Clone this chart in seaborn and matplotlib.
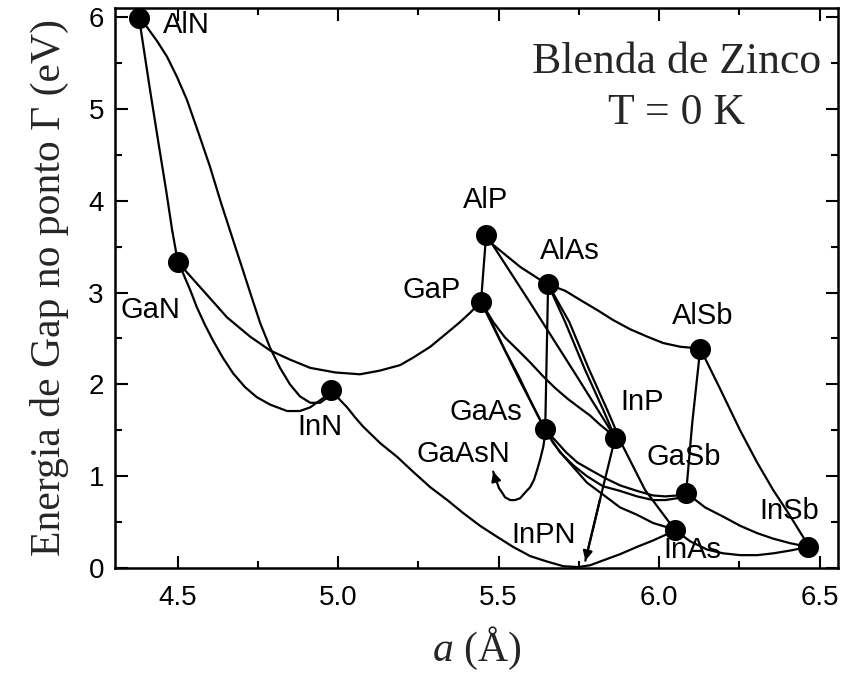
import numpy as np
import pandas as pd
import matplotlib
matplotlib.use("Agg")
import matplotlib.pyplot as plt
from matplotlib.ticker import MultipleLocator
import seaborn as sns

# ---- binary compounds (lattice constant in Angstrom, Gamma gap in eV) ----
compounds = ["AlN", "GaN", "InN", "AlP", "GaP", "AlAs", "AlSb",
             "GaAs", "InP", "GaSb", "InAs", "InSb"]
lattice = [4.380, 4.501, 4.978, 5.461, 5.445, 5.654, 6.128,
           5.645, 5.863, 6.084, 6.050, 6.464]
gap = [5.99, 3.33, 1.94, 3.63, 2.90, 3.09, 2.39,
       1.51, 1.42, 0.82, 0.41, 0.23]

# ---- alloy curves, points ----
AlGaN_a = [4.380, 4.414, 4.439, 4.464, 4.483, 4.501]
AlGaN_E = [5.99, 5.21, 4.66, 4.12, 3.68, 3.33]

AlInN_a = [4.380, 4.405, 4.436, 4.467, 4.498, 4.529, 4.564, 4.601, 4.635, 4.673,
           4.701, 4.726, 4.757, 4.788, 4.819, 4.850, 4.881, 4.913, 4.944, 4.960, 4.978]
AlInN_E = [5.99, 5.89, 5.74, 5.57, 5.35, 5.10, 4.75, 4.37, 3.98, 3.57,
           3.27, 3.00, 2.67, 2.40, 2.18, 2.00, 1.87, 1.80, 1.80, 1.84, 1.94]

GaInN_a = [4.501, 4.517, 4.539, 4.560, 4.585, 4.610, 4.641, 4.673, 4.710, 4.747,
           4.788, 4.841, 4.881, 4.913, 4.953, 4.978]
GaInN_E = [3.33, 3.21, 3.03, 2.84, 2.65, 2.48, 2.29, 2.12, 1.97, 1.86,
           1.78, 1.71, 1.71, 1.75, 1.85, 1.94]

GaNP_a = [4.501, 4.570, 4.654, 4.726, 4.788, 4.850, 4.913, 4.991, 5.068, 5.130,
          5.193, 5.233, 5.287, 5.339, 5.380, 5.411, 5.445]
GaNP_E = [3.33, 3.06, 2.73, 2.52, 2.37, 2.27, 2.18, 2.13, 2.11, 2.15,
          2.21, 2.29, 2.41, 2.56, 2.68, 2.78, 2.90]

InAsN_a = [4.978, 5.006, 5.028, 5.053, 5.078, 5.131, 5.184, 5.233, 5.287, 5.340,
           5.389, 5.442, 5.495, 5.545, 5.598, 5.651, 5.701, 5.747, 5.785, 5.831,
           5.878, 5.931, 5.981, 6.019, 6.050]
InAsN_E = [1.94, 1.83, 1.75, 1.64, 1.54, 1.36, 1.21, 1.05, 0.88, 0.74,
           0.60, 0.46, 0.34, 0.23, 0.13, 0.07, 0.02, 0.01, 0.03, 0.09,
           0.15, 0.23, 0.30, 0.36, 0.41]

GaAsN_a = [5.645, 5.642, 5.639, 5.629, 5.620, 5.610, 5.598, 5.582, 5.567, 5.551,
           5.536, 5.520, 5.511, 5.501, 5.495, 5.489, 5.483]
GaAsN_E = [1.51, 1.39, 1.32, 1.18, 1.07, 0.96, 0.88, 0.82, 0.76, 0.74,
           0.74, 0.77, 0.82, 0.87, 0.93, 0.98, 1.05]

InPN_a = [5.863, 5.816, 5.770]
InPN_E = [1.42, 0.75, 0.08]

AlGaP_a = [5.461, 5.445]
AlGaP_E = [3.63, 2.90]

AlAsP_a = [5.461, 5.483, 5.567, 5.629, 5.654]
AlAsP_E = [3.63, 3.52, 3.28, 3.14, 3.09]

AlInP_a = [5.461, 5.598, 5.745, 5.863]
AlInP_E = [3.63, 2.89, 2.08, 1.42]

AlAsInP_a = [5.654, 5.707, 5.769, 5.826, 5.863]
AlAsInP_E = [3.09, 2.68, 2.16, 1.72, 1.42]

AlInAs_a = [5.654, 5.720, 5.782, 5.841, 5.885, 5.956, 6.050]
AlInAs_E = [3.09, 2.68, 2.16, 1.70, 1.34, 0.85, 0.41]

AlGaAs_a = [5.654, 5.645]
AlGaAs_E = [3.09, 1.51]

AlAsSb_a = [5.654, 5.707, 5.754, 5.807, 5.857, 5.910, 5.963, 6.013, 6.066, 6.097, 6.128]
AlAsSb_E = [3.09, 3.02, 2.92, 2.81, 2.70, 2.60, 2.52, 2.45, 2.41, 2.40, 2.39]

AlGaSb_a = [6.128, 6.103, 6.084]
AlGaSb_E = [2.39, 1.58, 0.82]

AlInSb_a = [6.128, 6.190, 6.252, 6.305, 6.355, 6.402, 6.448, 6.464]
AlInSb_E = [2.39, 1.95, 1.50, 1.15, 0.85, 0.60, 0.34, 0.23]

GaInSb_a = [6.084, 6.143, 6.199, 6.252, 6.305, 6.355, 6.408, 6.464]
GaInSb_E = [0.82, 0.66, 0.56, 0.46, 0.38, 0.32, 0.27, 0.23]

InAsSb_a = [6.050, 6.097, 6.150, 6.199, 6.253, 6.305, 6.356, 6.408, 6.464]
InAsSb_E = [0.41, 0.29, 0.20, 0.16, 0.14, 0.14, 0.16, 0.19, 0.23]

GaAsP_a = [5.445, 5.504, 5.566, 5.645]
GaAsP_E = [2.90, 2.48, 2.04, 1.51]

GaAsSb_a = [5.645, 5.679, 5.710, 5.745, 5.785, 5.831, 5.878, 5.931, 5.981, 6.019, 6.056, 6.084]
GaAsSb_E = [1.51, 1.38, 1.26, 1.15, 1.07, 0.98, 0.90, 0.84, 0.79, 0.78, 0.79, 0.82]

GaPSb_a = [5.445, 5.483, 5.520, 5.561, 5.598, 5.629, 5.657, 5.691, 5.732, 5.775,
           5.825, 5.878, 5.931, 5.981, 6.019, 6.056, 6.084]
GaPSb_E = [2.90, 2.64, 2.37, 2.10, 1.83, 1.61, 1.44, 1.26, 1.12, 1.00,
           0.89, 0.84, 0.78, 0.74, 0.74, 0.76, 0.82]

GaInAs_a = [5.645, 5.670, 5.707, 5.775, 5.825, 5.878, 5.931, 5.981, 6.019, 6.050]
GaInAs_E = [1.51, 1.36, 1.20, 0.93, 0.80, 0.66, 0.58, 0.49, 0.45, 0.41]

GaInP_a = [5.445, 5.483, 5.520, 5.561, 5.598, 5.638, 5.676, 5.716, 5.754, 5.785,
           5.816, 5.841, 5.863]
GaInP_E = [2.90, 2.68, 2.51, 2.37, 2.24, 2.09, 1.96, 1.84, 1.74, 1.66,
           1.56, 1.49, 1.42]

curves = {
    "AlGaN": (AlGaN_a, AlGaN_E), "AlInN": (AlInN_a, AlInN_E),
    "GaInN": (GaInN_a, GaInN_E), "GaNP": (GaNP_a, GaNP_E),
    "InAsN": (InAsN_a, InAsN_E), "GaAsN": (GaAsN_a, GaAsN_E),
    "InPN": (InPN_a, InPN_E), "AlGaP": (AlGaP_a, AlGaP_E),
    "AlAsP": (AlAsP_a, AlAsP_E), "AlInP": (AlInP_a, AlInP_E),
    "AlAsInP": (AlAsInP_a, AlAsInP_E), "AlInAs": (AlInAs_a, AlInAs_E),
    "AlGaAs": (AlGaAs_a, AlGaAs_E), "AlAsSb": (AlAsSb_a, AlAsSb_E),
    "AlGaSb": (AlGaSb_a, AlGaSb_E), "AlInSb": (AlInSb_a, AlInSb_E),
    "GaInSb": (GaInSb_a, GaInSb_E), "InAsSb": (InAsSb_a, InAsSb_E),
    "GaAsP": (GaAsP_a, GaAsP_E), "GaAsSb": (GaAsSb_a, GaAsSb_E),
    "GaPSb": (GaPSb_a, GaPSb_E), "GaInAs": (GaInAs_a, GaInAs_E),
    "GaInP": (GaInP_a, GaInP_E),
}
arrow_curves = ["GaAsN", "InPN"]

# ---- text labels ----
label_text = ["AlN", "GaN", "InN", "AlP", "GaP", "AlAs", "AlSb", "GaAs",
              "InP", "GaAsN", "GaSb", "InPN", "InAs", "InSb"]
label_pos = [(4.526, 5.92), (4.414, 2.81), (4.944, 1.54), (5.458, 4.01),
             (5.290, 3.03), (5.722, 3.45), (6.134, 2.75), (5.461, 1.70),
             (5.947, 1.81), (5.389, 1.24), (6.075, 1.21), (5.640, 0.36),
             (6.103, 0.20), (6.405, 0.62)]

# ---- tidy frames ----
rows = []
for name, (a_vals, e_vals) in curves.items():
    for i, (a, e) in enumerate(zip(a_vals, e_vals)):
        rows.append({"alloy": name, "order": i, "a": a, "E": e})
df_curves = pd.DataFrame(rows)
df_pts = pd.DataFrame({"compound": compounds, "a": lattice, "E": gap})

# ---- figure ----
sns.set_theme(style="ticks")
plt.rcParams["font.family"] = ["Liberation Sans", "DejaVu Sans"]
plt.rcParams["mathtext.fontset"] = "custom"
plt.rcParams["mathtext.it"] = "Liberation Serif:italic"
plt.rcParams["mathtext.rm"] = "Liberation Serif"

fig = plt.figure(figsize=(8.43, 6.77), dpi=100)
ax = fig.add_axes([115 / 843, 1 - 568 / 677, (838 - 115) / 843, (568 - 8) / 677])

sns.lineplot(data=df_curves, x="a", y="E", units="alloy", estimator=None,
             sort=False, color="black", lw=1.6, ax=ax, zorder=2)

for name in arrow_curves:
    a_vals, e_vals = curves[name]
    ax.annotate("", xy=(a_vals[-1], e_vals[-1]), xytext=(a_vals[-2], e_vals[-2]),
                arrowprops=dict(arrowstyle="-|>", color="black", lw=1.6,
                                mutation_scale=14, shrinkA=0, shrinkB=0),
                zorder=3)

sns.scatterplot(data=df_pts, x="a", y="E", color="black", s=230,
                edgecolor="black", linewidth=0, ax=ax, zorder=4, clip_on=False)

for txt, (x, y) in zip(label_text, label_pos):
    ax.text(x, y, txt, fontsize=21, ha="center", va="center",
            family=["Liberation Sans", "DejaVu Sans"], color="black", zorder=5)

ax.text(0.777, 0.858, "Blenda de Zinco\nT = 0 K", transform=ax.transAxes,
        ha="center", va="center", fontsize=31.5, linespacing=1.35,
        family=["Liberation Serif", "DejaVu Serif"])

ax.set_xlim(4.305, 6.557)
ax.set_ylim(0, 6.1)
ax.xaxis.set_minor_locator(MultipleLocator(0.25))
ax.yaxis.set_minor_locator(MultipleLocator(0.5))
ax.set_xticks([4.5, 5.0, 5.5, 6.0, 6.5])
ax.set_xticklabels(["4.5", "5.0", "5.5", "6.0", "6.5"])
ax.set_yticks([0, 1, 2, 3, 4, 5, 6])

ax.tick_params(which="both", direction="in", top=True, right=True,
               width=1.5, colors="black")
ax.tick_params(which="major", length=9, labelsize=20)
ax.tick_params(axis="x", which="major", pad=12)
ax.tick_params(axis="y", which="major", pad=8)
ax.tick_params(which="minor", length=5)
for sp in ax.spines.values():
    sp.set_linewidth(1.8)
    sp.set_color("black")

ax.set_xlabel(r"$a$ (Å)", fontsize=30, family=["Liberation Serif", "DejaVu Serif"],
              labelpad=10)
ax.set_ylabel("Energia de Gap no ponto Γ (eV)", fontsize=30,
              family=["Liberation Serif", "DejaVu Serif"], labelpad=14)

fig.savefig("out.png", dpi=100)
